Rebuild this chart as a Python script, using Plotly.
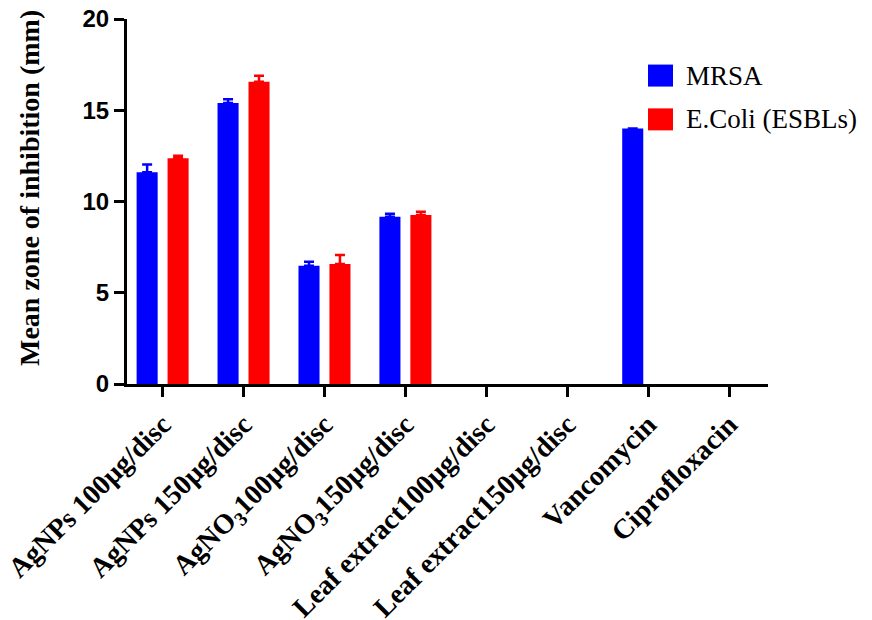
import plotly.graph_objects as go

categories = [
    "AgNPs 100µg/disc",
    "AgNPs 150µg/disc",
    "AgNO<sub>3</sub>100µg/disc",
    "AgNO<sub>3</sub>150µg/disc",
    "Leaf extract100µg/disc",
    "Leaf extract150µg/disc",
    "Vancomycin",
    "Ciprofloxacin",
]
mrsa_mean = [11.6, 15.4, 6.48, 9.17, 0, 0, 14.0, 0]
mrsa_err = [0.43, 0.2, 0.22, 0.16, 0, 0, 0, 0]
ecoli_mean = [12.37, 16.56, 6.58, 9.26, 0, 0, 0, 0]
ecoli_err = [0.14, 0.33, 0.49, 0.18, 0, 0, 0, 0]
series_names = ["MRSA", "E.Coli (ESBLs)"]
series_colors = ["#0000FF", "#FF0000"]
y_ticks = [0, 5, 10, 15, 20]
y_title = "Mean zone of inhibition (mm)"

SERIF = "Liberation Serif, Times New Roman, serif"
SANS = "Liberation Sans, Arial, sans-serif"

fig = go.Figure()
for name, vals, errs, col in zip(series_names, [mrsa_mean, ecoli_mean],
                                 [mrsa_err, ecoli_err], series_colors):
    # zero-height bars draw nothing (no stray error caps on the axis)
    y_plot = [v if v else None for v in vals]
    fig.add_trace(go.Bar(
        x=categories, y=y_plot, name=name,
        marker=dict(color=col, line=dict(width=0)),
        error_y=dict(type="data", array=errs, arrayminus=[0] * len(errs),
                     symmetric=False, color=col, thickness=2.5, width=5),
        showlegend=False,
    ))

# page body adds an 8px margin, so the figure is 8px smaller and shifted
fig.update_layout(
    template="none",
    width=864, height=612,
    margin=dict(l=119, r=104, t=11, b=236),
    paper_bgcolor="white", plot_bgcolor="white",
    barmode="group", bargap=0.235, bargroupgap=0.32,
    xaxis=dict(
        range=[-0.44, 7.48], showline=True, linewidth=3, linecolor="black",
        ticks="outside", ticklen=10, tickwidth=3, tickcolor="black",
        tickangle=-45, automargin=False, ticklabeloverflow="allow",
        tickfont=dict(family=SERIF, size=28, color="black", weight="bold"),
        showgrid=False, zeroline=False,
    ),
    yaxis=dict(
        range=[0, 20], tickvals=y_ticks, showline=True, linewidth=3,
        linecolor="black", ticks="outside", ticklen=10, tickwidth=3,
        tickcolor="black", automargin=False, ticklabeloverflow="allow",
        tickfont=dict(family=SANS, size=24, color="black", weight="bold"),
        showgrid=False, zeroline=False,
    ),
)

fig.add_annotation(text="<b>" + y_title + "</b>", xref="paper", yref="paper",
                   x=(29 - 127) / 641, y=(384 - 188) / 365, textangle=-90,
                   xanchor="center", yanchor="middle", showarrow=False,
                   font=dict(family=SERIF, size=28, color="black"))

# legend drawn as swatches + text
legend_y = [0.845, 0.725]
for name, col, yy in zip(series_names, series_colors, legend_y):
    fig.add_shape(type="rect", xref="paper", yref="paper",
                  x0=(648 - 127) / 641, x1=(673 - 127) / 641,
                  y0=yy - 11 / 365, y1=yy + 11 / 365,
                  fillcolor=col, line=dict(width=0))
    fig.add_annotation(text=name, xref="paper", yref="paper",
                       x=(684 - 127) / 641, y=yy, xanchor="left", yanchor="middle",
                       showarrow=False,
                       font=dict(family=SERIF, size=27, color="black"))

fig.write_html("out.html")
